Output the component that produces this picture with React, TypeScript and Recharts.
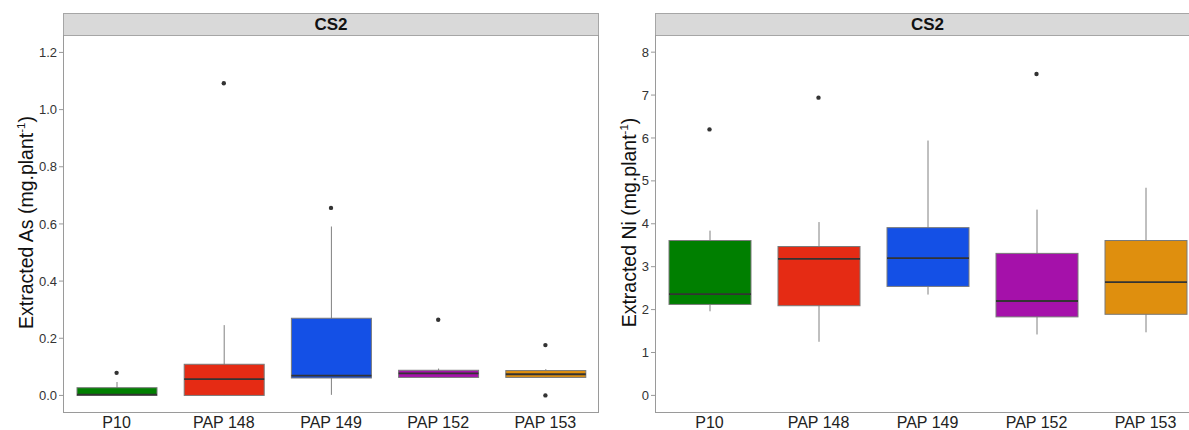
import React from 'react';
import { ComposedChart, Bar, Line, XAxis, YAxis } from 'recharts';

const categories = ['P10', 'PAP 148', 'PAP 149', 'PAP 152', 'PAP 153'];

// Extracted As (mg.plant-1)
const asMin = [0.0, 0.0, 0.002, 0.062, 0.062];
const asQ1 = [0.0, 0.0, 0.061, 0.063, 0.063];
const asMed = [0.003, 0.057, 0.069, 0.077, 0.074];
const asQ3 = [0.027, 0.109, 0.27, 0.088, 0.087];
const asMax = [0.047, 0.246, 0.591, 0.094, 0.092];
const asOut1 = [0.079, 1.092, 0.656, 0.265, 0.176];
const asOut2 = [null, null, null, null, 0.0];
const asTicks = [0, 0.2, 0.4, 0.6, 0.8, 1.0, 1.2];

// Extracted Ni (mg.plant-1)
const niMin = [1.96, 1.25, 2.35, 1.42, 1.47];
const niQ1 = [2.12, 2.09, 2.54, 1.83, 1.89];
const niMed = [2.36, 3.18, 3.2, 2.2, 2.64];
const niQ3 = [3.61, 3.47, 3.91, 3.31, 3.61];
const niMax = [3.84, 4.04, 5.94, 4.33, 4.84];
const niOut1 = [6.2, 6.94, null, 7.49, null];
const niOut2 = [null, null, null, null, null];
const niTicks = [0, 1, 2, 3, 4, 5, 6, 7, 8];

const boxColors = ['#007F00', '#E52B14', '#1450E6', '#A511AA', '#DF8F0E'];
const FONT = 'Liberation Sans, Arial, sans-serif';

const build = (
  mins: number[], q1s: number[], meds: number[], q3s: number[], maxs: number[],
  o1: (number | null)[], o2: (number | null)[]
) =>
  categories.map((cat, i) => ({
    cat, min: mins[i], q1: q1s[i], med: meds[i], q3: q3s[i], max: maxs[i],
    out1: o1[i], out2: o2[i],
  }));

const asData = build(asMin, asQ1, asMed, asQ3, asMax, asOut1, asOut2);
const niData = build(niMin, niQ1, niMed, niQ3, niMax, niOut1, niOut2);

const BoxShape = (props: any) => {
  const { x, y, width, height, payload, index } = props;
  if (!payload) return null;
  const { min, q1, med, q3, max } = payload;
  const span = max - min;
  const k = span > 0 ? height / span : 0;
  const yOf = (v: number) => y + (max - v) * k;
  const cx = x + width / 2;
  return (
    <g>
      <line x1={cx} x2={cx} y1={yOf(max)} y2={yOf(min)} stroke="#808080" strokeWidth={1} />
      <rect x={x} y={yOf(q3)} width={width} height={Math.max(yOf(q1) - yOf(q3), 0)}
        fill={boxColors[index % boxColors.length]} stroke="#7a7a7a" strokeWidth={1} />
      <line x1={x} x2={x + width} y1={yOf(med)} y2={yOf(med)} stroke="#333333" strokeWidth={1.8} />
    </g>
  );
};

const makeLabel = (metal: string, xPos: number) => (p: any) => {
  const vb = p.viewBox || { x: 0, y: 0, width: 0, height: 0 };
  const cx = (vb.x || 0) + xPos;
  const cy = TOP + (BOTTOM - TOP) / 2 - 1;
  return (
    <text x={cx} y={cy} transform={`rotate(-90 ${cx} ${cy})`} textAnchor="middle"
      fontFamily={FONT} fontSize={19.5} fill="#111">
      <tspan>{`Extracted ${metal} (mg.plant`}</tspan>
      <tspan fontSize={11.5} dy={-8}>-1</tspan>
      <tspan dy={8}>)</tspan>
    </text>
  );
};

type PanelProps = {
  left: number; width: number; yAxisWidth: number; data: any[];
  domain: [number, number]; ticks: number[]; fmt: (v: number) => string;
  metal: string; labelX: number; barSize: number;
};

const TOP = 35;
const BOTTOM = 412;
const H = 430;

function Panel({ left, width, yAxisWidth, data, domain, ticks, fmt, metal, labelX, barSize }: PanelProps) {
  const plotLeft = left + yAxisWidth;
  const plotW = width - yAxisWidth;
  return (
    <>
      <div style={{ position: 'absolute', left, top: 0, width, height: H }}>
        <ComposedChart width={width} height={H} data={data}
          margin={{ top: TOP, right: 0, bottom: 0, left: 0 }}>
          <XAxis dataKey="cat" type="category" height={H - BOTTOM} axisLine={false}
            tickSize={4} tickMargin={1} tickLine={{ stroke: 'none' }} interval={0}
            tick={{ fontFamily: FONT, fontSize: 16, fill: '#222' }} />
          <YAxis type="number" domain={domain} ticks={ticks} allowDataOverflow
            width={yAxisWidth} axisLine={false} tickSize={4} tickMargin={2}
            tickLine={{ stroke: '#999' }} tickFormatter={fmt}
            tick={{ fontFamily: FONT, fontSize: 13, fill: '#333' }}
            label={{ content: makeLabel(metal, labelX) } as any} />
          <Bar dataKey={(d: any) => [d.min, d.max]} barSize={barSize}
            shape={BoxShape} isAnimationActive={false} />
          <Line dataKey="out1" stroke="none" isAnimationActive={false} activeDot={false}
            dot={{ r: 2.2, fill: '#333', stroke: 'none' }} connectNulls={false} />
          <Line dataKey="out2" stroke="none" isAnimationActive={false} activeDot={false}
            dot={{ r: 2.2, fill: '#333', stroke: 'none' }} connectNulls={false} />
        </ComposedChart>
      </div>
      <div style={{
        position: 'absolute', left: plotLeft, top: 13, width: plotW, height: TOP - 13 + 1,
        boxSizing: 'border-box', background: '#d9d9d9', border: '1px solid #a6a6a6',
        display: 'flex', alignItems: 'center', justifyContent: 'center',
        fontFamily: FONT, fontWeight: 700, fontSize: 17, color: '#111',
      }}>CS2</div>
      <div style={{
        position: 'absolute', left: plotLeft, top: TOP, width: plotW, height: BOTTOM - TOP + 1,
        boxSizing: 'border-box', border: '1px solid #9a9a9a', borderTop: 'none', pointerEvents: 'none',
      }} />
    </>
  );
}

export default function App() {
  return (
    <div style={{ position: 'absolute', left: 0, top: 0, width: 1189, height: 430, overflow: 'hidden', background: '#fff' }}>
      <Panel left={0} width={599} yAxisWidth={63} data={asData} domain={[-0.058, 1.261]}
        ticks={asTicks} fmt={(v) => v.toFixed(1)} metal="As" labelX={33} barSize={80} />
      <Panel left={600} width={600} yAxisWidth={55} data={niData} domain={[-0.387, 8.4]}
        ticks={niTicks} fmt={(v) => String(v)} metal="Ni" labelX={36} barSize={82} />
    </div>
  );
}
